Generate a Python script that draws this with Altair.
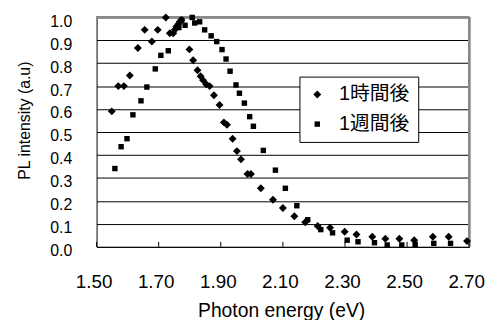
import altair as alt
import pandas as pd

series_names = ["1時間後", "1週間後"]

e_1h = [1.549, 1.570, 1.588, 1.607, 1.633, 1.655, 1.678, 1.697, 1.723, 1.736, 1.747, 1.752,
        1.757, 1.763, 1.768, 1.773, 1.799, 1.811, 1.825, 1.835, 1.843, 1.853, 1.864, 1.878,
        1.896, 1.910, 1.920, 1.938, 1.952, 1.965, 1.986, 1.997, 2.029, 2.068, 2.100, 2.137,
        2.172, 2.212, 2.252, 2.299, 2.337, 2.388, 2.430, 2.475, 2.523, 2.583, 2.634, 2.693]
i_1h = [0.590, 0.700, 0.700, 0.746, 0.866, 0.945, 0.894, 0.945, 0.999, 0.930, 0.930, 0.945,
        0.959, 0.969, 0.980, 0.988, 0.860, 0.813, 0.769, 0.743, 0.726, 0.708, 0.700, 0.660,
        0.618, 0.542, 0.532, 0.471, 0.417, 0.381, 0.317, 0.317, 0.255, 0.205, 0.169, 0.133,
        0.107, 0.091, 0.083, 0.066, 0.054, 0.044, 0.035, 0.035, 0.029, 0.044, 0.044, 0.025]

e_1w = [1.559, 1.579, 1.598, 1.617, 1.643, 1.662, 1.689, 1.707, 1.731, 1.765, 1.774, 1.785,
        1.808, 1.816, 1.832, 1.848, 1.869, 1.887, 1.904, 1.917, 1.930, 1.949, 1.960, 1.976,
        1.993, 2.005, 2.037, 2.076, 2.108, 2.145, 2.180, 2.222, 2.260, 2.307, 2.342, 2.395,
        2.436, 2.483, 2.526, 2.586, 2.640]
i_1w = [0.341, 0.436, 0.471, 0.575, 0.636, 0.696, 0.775, 0.834, 0.854, 0.955, 0.988, 0.965,
        0.999, 0.975, 0.980, 0.945, 0.919, 0.894, 0.859, 0.818, 0.765, 0.705, 0.669, 0.626,
        0.567, 0.525, 0.420, 0.334, 0.255, 0.179, 0.118, 0.075, 0.061, 0.029, 0.022, 0.018,
        0.008, 0.008, 0.011, 0.015, 0.015]

x_ticks = [1.5, 1.7, 1.9, 2.1, 2.3, 2.5, 2.7]
y_ticks = [0.0, 0.1, 0.2, 0.3, 0.4, 0.5, 0.6, 0.7, 0.8, 0.9, 1.0]

df = pd.concat([
    pd.DataFrame({"E": e_1h, "I": i_1h, "series": series_names[0]}),
    pd.DataFrame({"E": e_1w, "I": i_1w, "series": series_names[1]}),
])
ticks_df = pd.DataFrame({"E": x_ticks})

W, H = 376.5, 232
NUM_FONT = "Liberation Sans, Arial, sans-serif"
BORDER = "#8a8a8a"

x_scale = alt.Scale(domain=[1.5, 2.7], nice=False, zero=False)
y_scale = alt.Scale(domain=[0, 1.0], nice=False)

legend = alt.Legend(orient="none", legendX=205, legendY=60, title=None,
                    strokeColor="black", fillColor="white", padding=8,
                    labelFont="Liberation Sans, Noto Sans CJK JP, sans-serif",
                    labelFontSize=20, labelColor="black", labelOffset=12,
                    rowPadding=10, symbolStrokeWidth=0, symbolFillColor="black")

points = alt.Chart(df).mark_point(filled=True, color="black", opacity=1).encode(
    x=alt.X("E:Q", scale=x_scale,
            axis=alt.Axis(values=x_ticks, format=".2f", title="Photon energy (eV)",
                          grid=False, ticks=False, domainColor="black", domainWidth=1,
                          labelFont=NUM_FONT, labelFontSize=19, labelColor="black",
                          labelPadding=26, labelOffset=-3, labelFlush=False,
                          titleFont=NUM_FONT, titleFontSize=19.5, titleFontWeight="normal",
                          titleColor="black", titleX=186.5, titleY=70,
                          titleBaseline="alphabetic")),
    y=alt.Y("I:Q", scale=y_scale,
            axis=alt.Axis(values=y_ticks, format=".1f", title="PL intensity (a.u)",
                          grid=True,
                          gridColor={"condition": {"test": "datum.value >= 1", "value": BORDER},
                                     "value": "black"},
                          gridWidth=1, ticks=False, domainColor="black", domainWidth=1,
                          labelFont=NUM_FONT, labelFontSize=16, labelColor="black",
                          labelPadding=25, labelOffset=4, labelFlush=False,
                          titleFont=NUM_FONT, titleFontSize=16, titleFontWeight="normal",
                          titleColor="black", titleAngle=270, titleX=-67.5, titleY=104,
                          titleBaseline="alphabetic", titleAlign="center")),
    shape=alt.Shape("series:N", scale=alt.Scale(domain=series_names, range=["diamond", "square"]),
                    legend=legend),
    size=alt.Size("series:N", scale=alt.Scale(domain=series_names, range=[64, 30]),
                  legend=legend),
)

tick_marks = alt.Chart(ticks_df).mark_rule(color="black", strokeWidth=1).encode(
    x=alt.X("E:Q", scale=x_scale),
    y=alt.value(H - 5),
    y2=alt.value(H),
)

right_border = alt.Chart(ticks_df).mark_rule(color=BORDER, strokeWidth=2).encode(
    x=alt.value(W), y=alt.value(0), y2=alt.value(H)
)
top_border = alt.Chart(ticks_df).mark_rule(color=BORDER, strokeWidth=2).encode(
    x=alt.value(0), x2=alt.value(W), y=alt.value(0)
)

chart = alt.layer(right_border, top_border, points, tick_marks).properties(
    width=W, height=H,
    autosize=alt.AutoSizeParams(type="none"),
    padding={"left": 89.5, "top": 7.7, "right": 18, "bottom": 72.3},
    background="white",
).configure_view(stroke=None)

chart.save("out.html", embed_options={"renderer": "svg", "actions": False})
